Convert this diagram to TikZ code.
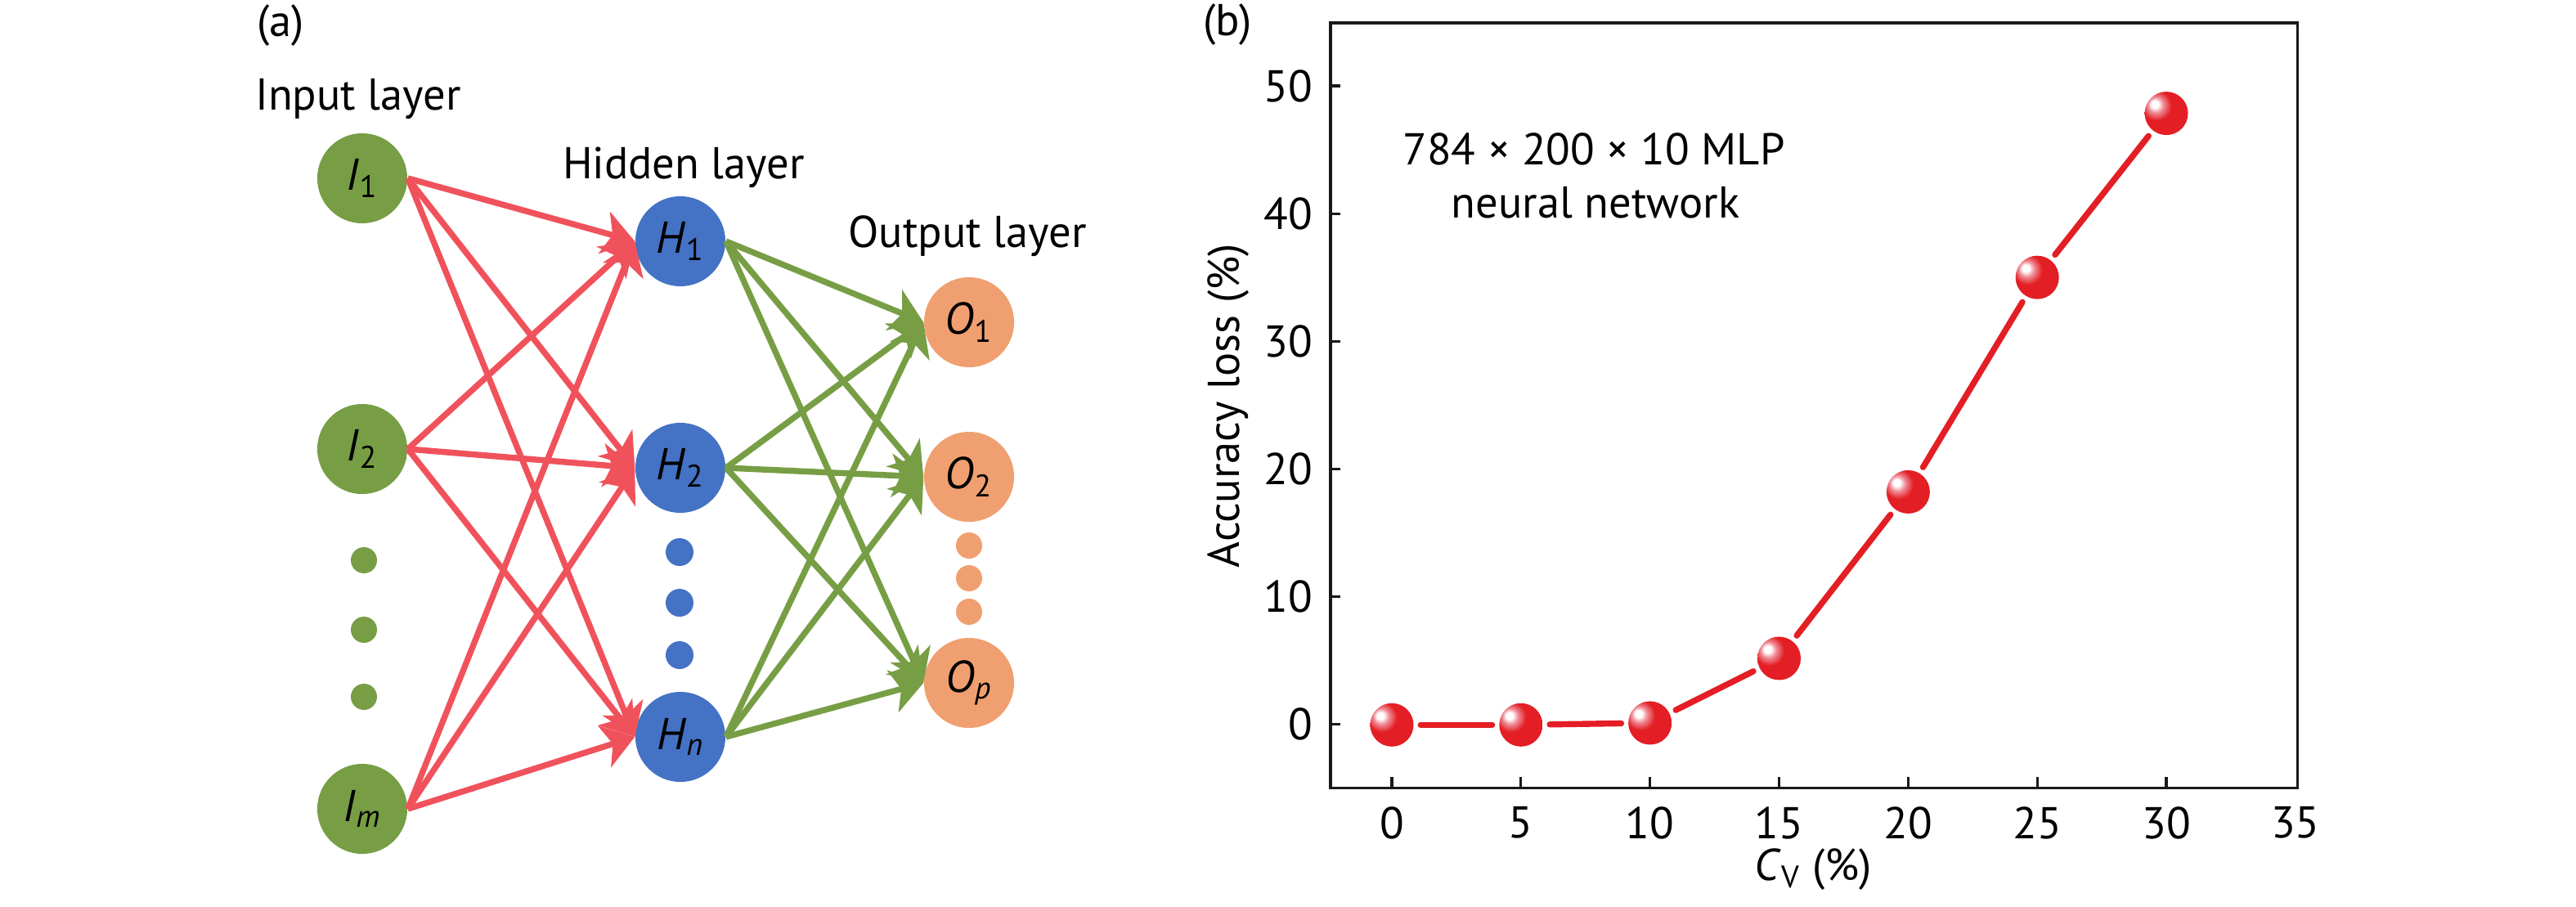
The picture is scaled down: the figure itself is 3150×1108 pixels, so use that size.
\documentclass[tikz,border=0pt]{standalone}
\usepackage{fontspec}
\setmainfont{PT Sans}
\usetikzlibrary{arrows.meta}
\definecolor{ngreen}{RGB}{119,158,69}
\definecolor{nblue}{RGB}{68,114,196}
\definecolor{norange}{RGB}{240,160,112}
\definecolor{ared}{RGB}{240,82,92}
\definecolor{mred}{RGB}{227,30,36}
\definecolor{mpink}{RGB}{240,140,150}
\pgfdeclareradialshading{redball}{\pgfpoint{-14bp}{11bp}}{color(0bp)=(white); color(4bp)=(white); color(9bp)=(mpink); color(17bp)=(mred); color(80bp)=(mred)}
\newcommand\fsz{\fontsize{15.5}{18.6}\selectfont}
\tikzset{
  neuron/.style={circle, minimum size=1.1cm, inner sep=0pt, text=black, font=\fsz},
  dotn/.style={circle, minimum size=0.32cm, inner sep=0pt},
  lbl/.style={font=\fsz, inner sep=0pt, text=black},
  redarrow/.style={draw=ared, line width=2.1pt, -{Stealth[length=11pt,width=15pt,inset=3pt]}},
  greenarrow/.style={draw=ngreen, line width=2.1pt, -{Stealth[length=11pt,width=15pt,inset=3pt]}},
  marker/.style={circle, minimum size=0.53cm, inner sep=0pt, shading=redball},
  dataline/.style={draw=mred, line width=2.1pt, line cap=round, shorten >=0.08cm, shorten <=0.08cm},
  frame/.style={draw=black!90, line width=0.9pt},
}
\begin{document}
\begin{tikzpicture}[x=0.01cm, y=-0.01cm]
\useasboundingbox (0,0) rectangle (3150,1108);
% ---------- panel (a) ----------
\node[lbl] (la) at (343,31) {(a)};
\node[lbl] (lin) at (438,121) {Input layer};
\node[lbl] (lhid) at (836,205) {Hidden layer};
\node[lbl] (lout) at (1183,289) {Output layer};

\node[neuron, fill=ngreen] (I1) at (443,218) {\textit{I}\textsubscript{1}};
\node[neuron, fill=ngreen] (I2) at (443,549) {\textit{I}\textsubscript{2}};
\node[neuron, fill=ngreen] (Im) at (443,989) {\textit{I}\textsubscript{\textit{m}}};
\node[neuron, fill=nblue] (H1) at (832,295) {\textit{H}\textsubscript{1}};
\node[neuron, fill=nblue] (H2) at (832,572) {\textit{H}\textsubscript{2}};
\node[neuron, fill=nblue] (Hn) at (832,901) {\textit{H}\textsubscript{\textit{n}}};
\node[neuron, fill=norange] (O1) at (1185,394) {\textit{O}\textsubscript{1}};
\node[neuron, fill=norange] (O2) at (1185,583) {\textit{O}\textsubscript{2}};
\node[neuron, fill=norange] (Op) at (1185,835) {\textit{O}\textsubscript{\textit{p}}};

\node[dotn, fill=ngreen] (di1) at (445,685) {};
\node[dotn, fill=ngreen] (di2) at (445,770) {};
\node[dotn, fill=ngreen] (di3) at (445,852) {};
\node[dotn, fill=nblue, minimum size=0.34cm] (dh1) at (831,675) {};
\node[dotn, fill=nblue, minimum size=0.34cm] (dh2) at (831,737) {};
\node[dotn, fill=nblue, minimum size=0.34cm] (dh3) at (831,801) {};
\node[dotn, fill=norange] (do1) at (1185,667) {};
\node[dotn, fill=norange] (do2) at (1185,707) {};
\node[dotn, fill=norange] (do3) at (1185,748) {};

\foreach \i in {I1,I2,Im}
  \foreach \h in {H1,H2,Hn}
    \draw[redarrow] (\i.east) -- (\h.west);
\foreach \h in {H1,H2,Hn}
  \foreach \o in {O1,O2,Op}
    \draw[greenarrow] (\h.east) -- (\o.west);

% ---------- panel (b) ----------
\node[lbl] (lb) at (1501,30) {(b)};
\node[lbl, rotate=90] (ylab) at (1502,496) {Accuracy loss (\%)};
\node[lbl] (xlab) at (2217,1063) {\textit{C}\textsubscript{V} (\%)};
\node[lbl] (ann1) at (1949,182) {784 × 200 × 10 MLP};
\node[lbl] (ann2) at (1951,248) {neural network};

\begin{scope}[shift={(17.01cm,-8.85cm)}, x=0.3155cm, y=0.156cm]
  \draw[frame] (-2.377,-5) rectangle (35.09,54.94);
  \foreach \v in {0,10,...,50} {
    \draw[frame] (-2.377,\v) -- ++(0.38,0);
    \node[lbl, anchor=east, xshift=-0.21cm] at (-2.377,\v) {\v};
  }
  \foreach \c in {0,5,...,30}
    \draw[frame] (\c,-5) -- ++(0,0.9);
  \foreach \c in {0,5,...,35}
    \node[lbl, anchor=north, yshift=-0.22cm] at (\c,-5) {\c};

  \node[marker] (p0) at (0,-0.05) {};
  \node[marker] (p1) at (5,-0.05) {};
  \node[marker] (p2) at (10,0.1) {};
  \node[marker] (p3) at (15,5.16) {};
  \node[marker] (p4) at (20,18.2) {};
  \node[marker] (p5) at (25,35.0) {};
  \node[marker] (p6) at (30,47.85) {};
  \draw[dataline] (p0) -- (p1);
  \draw[dataline] (p1) -- (p2);
  \draw[dataline] (p2) -- (p3);
  \draw[dataline] (p3) -- (p4);
  \draw[dataline] (p4) -- (p5);
  \draw[dataline] (p5) -- (p6);
\end{scope}
\end{tikzpicture}
\end{document}
